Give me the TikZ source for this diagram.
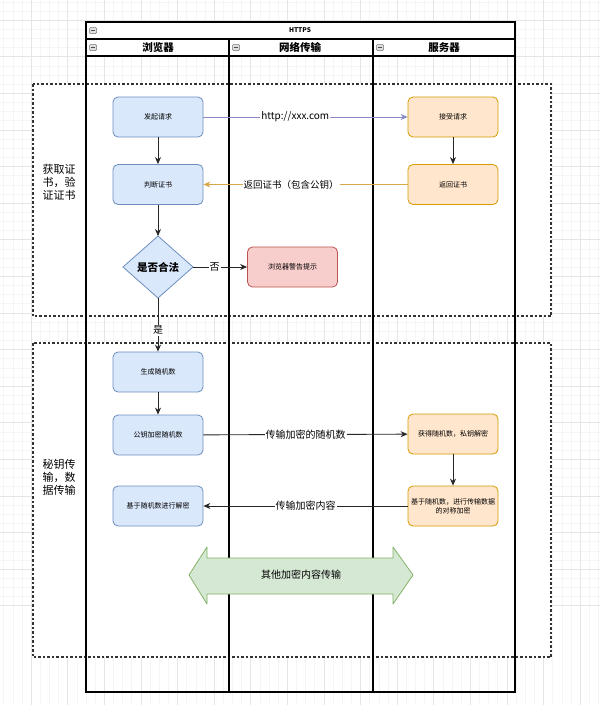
\documentclass[tikz,border=0pt]{standalone}
\usepackage{fontspec}
\setmainfont{Noto Sans CJK SC}
\usetikzlibrary{arrows.meta}

\definecolor{blueFill}{HTML}{DAE8FC}
\definecolor{blueLine}{HTML}{6C8EBF}
\definecolor{orangeFill}{HTML}{FFE6CC}
\definecolor{orangeLine}{HTML}{D79B00}
\definecolor{redFill}{HTML}{F8CECC}
\definecolor{redLine}{HTML}{B85450}
\definecolor{greenFill}{HTML}{D5E8D4}
\definecolor{greenLine}{HTML}{82B366}
\definecolor{reqLine}{HTML}{8A8AC8}
\definecolor{certLine}{HTML}{D6A84A}

\tikzset{
    gridminor/.style={draw=black!4, line width=0.4pt},
    gridmajor/.style={draw=black!10, line width=0.5pt},
    group/.style={draw=black!80, fill=white, dash pattern=on 2.5pt off 2pt, line width=1.1pt},
    pool/.style={draw=black, line width=1.1pt},
    browserbox/.style={rounded corners=5pt, draw=blueLine, fill=blueFill, line width=0.8pt,
        minimum width=90pt, minimum height=40pt, align=center, font=\fontsize{7}{9}\selectfont},
    serverbox/.style={browserbox, draw=orangeLine, fill=orangeFill},
    warnbox/.style={browserbox, draw=redLine, fill=redFill},
    flow/.style={-{Stealth[length=7pt,width=6pt]}, line width=0.9pt, draw=black!85},
    msg/.style={fill=white, inner sep=1pt, font=\fontsize{10}{12}\selectfont},
    collapse/.style={draw=black!55, fill=black!12, rounded corners=1pt, minimum width=7pt,
        minimum height=6pt, inner sep=0pt, line width=0.5pt,
        path picture={\draw[black!70, line width=0.6pt]
            ([xshift=1.6pt]path picture bounding box.west) -- ([xshift=-1.6pt]path picture bounding box.east);}},
}

\begin{document}
\begin{tikzpicture}[x=1pt,y=-1pt]
    \useasboundingbox (0,0) rectangle (600,705);
    \fill[white] (0,0) rectangle (600,705);

    % background grid
    \foreach \i in {0,...,66} {
        \draw[gridminor] ({-5.6+9.15*\i},0) -- ({-5.6+9.15*\i},705);
        \draw[gridminor] (0,{1.7+9.15*\i}) -- (600,{1.7+9.15*\i});
    }
    \foreach \i in {0,...,17} {
        \draw[gridmajor] ({-5.6+36.6*\i},0) -- ({-5.6+36.6*\i},705);
        \draw[gridmajor] (0,{-16.6+36.6*\i}) -- (600,{-16.6+36.6*\i});
    }

    % dashed groups
    \draw[group] (33,84) rectangle (551,316);
    \draw[group] (33,343) rectangle (551,657);

    % pool and lanes
    \fill[white] (86,22) rectangle (515,56);
    \draw[pool] (86,22) rectangle (515,692);
    \draw[pool] (86,39) -- (515,39);
    \draw[pool] (86,56) -- (515,56);
    \draw[pool] (229,39) -- (229,692);
    \draw[pool] (373,39) -- (373,692);
    \node[collapse] (iconPool) at (93,30.5) {};
    \node[collapse] (iconBrowser) at (93,47.5) {};
    \node[collapse] (iconNet) at (236,47.5) {};
    \node[collapse] (iconServer) at (380,47.5) {};
    \node[font=\fontsize{6.5}{8}\selectfont\bfseries] (pool) at (300,30.5) {HTTPS};
    \node[font=\fontsize{10.5}{12}\selectfont\bfseries] (laneBrowser) at (158,47.5) {浏览器};
    \node[font=\fontsize{10.5}{12}\selectfont\bfseries] (laneNet) at (300,47.5) {网络传输};
    \node[font=\fontsize{10.5}{12}\selectfont\bfseries] (laneServer) at (444,47.5) {服务器};

    % group labels
    \node[align=center, font=\fontsize{11}{13}\selectfont] (certLabel) at (59,182) {获取证\\书，验\\证证书};
    \node[align=center, font=\fontsize{11}{13}\selectfont] (keyLabel) at (59,477) {秘钥传\\输，数\\据传输};

    % browser lane
    \node[browserbox] (request) at (158,117) {发起请求};
    \node[browserbox] (checkCert) at (158,184.5) {判断证书};
    \draw[draw=blueLine, fill=blueFill, line width=0.8pt] (123,267) -- (158,236) -- (193,267) -- (158,298) -- cycle;
    \node[font=\fontsize{10.5}{12}\selectfont\bfseries] (legal) at (158,267) {是否合法};
    \coordinate (legalR) at (193,267);
    \coordinate (legalT) at (158,236);
    \coordinate (legalB) at (158,298);
    \node[warnbox] (warn) at (292.5,267) {浏览器警告提示};
    \node[browserbox] (genKey) at (158,372) {生成随机数};
    \node[browserbox] (encKey) at (158,435) {公钥加密随机数};
    \node[browserbox] (decData) at (158,506) {基于随机数进行解密};

    % server lane
    \node[serverbox] (accept) at (453,117) {接受请求};
    \node[serverbox] (sendCert) at (453,184.5) {返回证书};
    \node[serverbox] (getKey) at (453,434) {获得随机数，私钥解密};
    \node[serverbox, text width=88pt, inner sep=1pt] (encData) at (453,506) {基于随机数，进行传输数据\\的对称加密};

    % connectors
    \draw[flow] (request) -- (checkCert);
    \draw[flow] (checkCert) -- (legalT);
    \draw[flow] (legalR) -- (warn) node[msg, pos=0.4] {否};
    \draw[flow] (legalB) -- (genKey) node[msg, pos=0.6] {是};
    \draw[flow] (genKey) -- (encKey);
    \draw[flow] (accept) -- (sendCert);
    \draw[flow] (getKey) -- (encData);
    \draw[-{Stealth[length=7pt,width=6pt]}, line width=0.8pt, draw=reqLine] (request) -- (accept)
        node[msg, pos=0.45] {http://xxx.com};
    \draw[-{Stealth[length=7pt,width=6pt]}, line width=0.8pt, draw=certLine] (sendCert) -- (checkCert)
        node[msg, pos=0.57, font=\fontsize{9.5}{11}\selectfont] {返回证书（包含公钥）};
    \draw[flow] (encKey) -- (getKey) node[msg, midway] {传输加密的随机数};
    \draw[flow] (encData) -- (decData) node[msg, midway] {传输加密内容};

    % other encrypted traffic
    \draw[draw=greenLine, fill=greenFill, line width=0.8pt, line join=round]
        (189,575) -- (207,547) -- (207,558) -- (393,558) -- (393,547) -- (413,575)
        -- (393,604) -- (393,594) -- (207,594) -- (207,604) -- cycle;
    \node[font=\fontsize{10}{12}\selectfont] (other) at (301,575) {其他加密内容传输};
\end{tikzpicture}
\end{document}
